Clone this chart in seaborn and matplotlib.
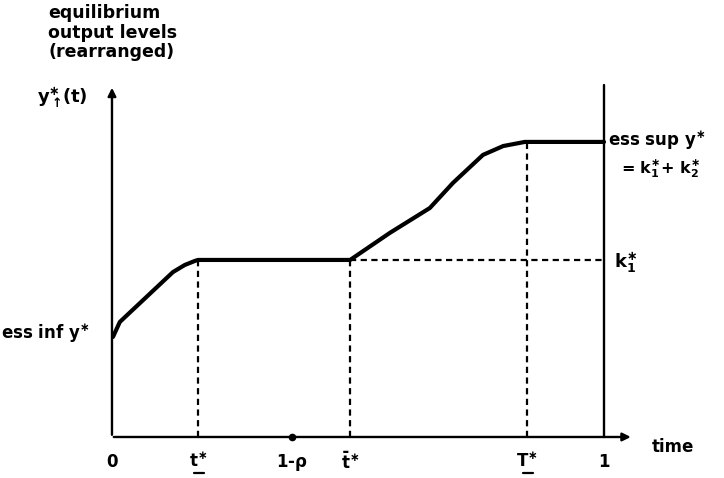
import numpy as np
import pandas as pd
import matplotlib
matplotlib.use('Agg')
import matplotlib.pyplot as plt
import seaborn as sns

# time positions of the marked points (share of [0, 1])
t_low = 0.175      # t*
one_minus_rho = 0.366
t_bar = 0.484      # t-bar*
T_up = 0.843       # T*

# output levels
ess_inf = 0.339
k1 = 0.60
ess_sup = 1.0
axis_top = 1.193

# equilibrium output path (rearranged)
curve_t = [0.002, 0.016, 0.124, 0.148, 0.169, t_low, t_bar,
           0.565, 0.646, 0.693, 0.754, 0.795, 0.839, T_up, 1.0]
curve_y = [ess_inf, 0.390, 0.559, 0.583, 0.597, k1, k1,
           0.692, 0.776, 0.861, 0.956, 0.986, 1.0, ess_sup, ess_sup]

tick_pos = [0.0, t_low, one_minus_rho, t_bar, T_up, 1.0]
tick_lab = ['0', r'$t^{\ast}$', r'1-$\rho$', r'$\bar{t}^{\ast}$', r'$T^{\ast}$', '1']
underlined = [t_low, T_up]

sns.set_style('white')
plt.rcParams['font.family'] = ['DejaVu Sans']
plt.rcParams['font.weight'] = 'bold'
plt.rcParams['text.color'] = 'black'
plt.rcParams['mathtext.fontset'] = 'dejavusans'
plt.rcParams['mathtext.default'] = 'bf'

fig = plt.figure(figsize=(7.24, 4.78), dpi=100)
ax = fig.add_axes([0, 0, 1, 1])
ax.set_xlim(-0.2276, 1.2439)
ax.set_ylim(-0.139, 1.481)
ax.axis('off')

df = pd.DataFrame({'t': curve_t, 'y': curve_y})
sns.lineplot(data=df, x='t', y='y', sort=False, color='black', lw=3.0,
             solid_capstyle='round', ax=ax)

# axes with arrows
ax.plot([1.0, 1.0], [0, axis_top], color='black', lw=1.7)
ax.annotate('', xy=(0, axis_top), xytext=(0, -0.002),
            arrowprops=dict(arrowstyle='-|>', lw=1.7, color='black', mutation_scale=12))
ax.annotate('', xy=(1.06, 0), xytext=(-0.002, 0),
            arrowprops=dict(arrowstyle='-|>', lw=1.7, color='black', mutation_scale=12))

# dashed guides
dash = dict(color='black', lw=1.6, linestyle=(0, (2.8, 2.0)))
ax.plot([t_low, t_low], [0, k1], **dash)
ax.plot([t_bar, t_bar], [0, k1], **dash)
ax.plot([T_up, T_up], [0, ess_sup], **dash)
ax.plot([t_bar, 1.0], [k1, k1], **dash)

ax.plot([one_minus_rho], [0], 'o', color='black', ms=4.5)

# tick labels
fs = 12
for p, lab in zip(tick_pos, tick_lab):
    ax.text(p, -0.085, lab, ha='center', va='center', fontsize=fs, fontweight='bold')
for p in underlined:
    ax.plot([p - 0.008, p + 0.012], [-0.123, -0.123], color='black', lw=1.6)

ax.text(1.098, -0.035, 'time', ha='left', va='center', fontsize=fs, fontweight='bold')

# vertical labels
ax.text(-0.13, 1.468, 'equilibrium\noutput levels\n(rearranged)', ha='left', va='top',
        fontsize=fs + 0.5, fontweight='bold', linespacing=1.12)
ax.text(-0.152, 1.15, r'$y^{\ast}_{\uparrow}\!(t)$', ha='left', va='center', fontsize=fs + 1)
ax.text(-0.045, ess_inf + 0.01, r'ess inf $y^{\ast}$', ha='right', va='center',
        fontsize=fs, fontweight='bold')
ax.text(1.008, ess_sup + 0.005, r'ess sup $y^{\ast}$', ha='left', va='center',
        fontsize=fs, fontweight='bold')
ax.text(1.035, ess_sup - 0.09, r'= $k^{\ast}_{1}$+ $k^{\ast}_{2}$', ha='left', va='center',
        fontsize=fs - 0.5, fontweight='bold')
ax.text(1.02, k1 - 0.01, r'$k^{\ast}_{1}$', ha='left', va='center', fontsize=fs + 1)

fig.savefig('out.png', dpi=100)
